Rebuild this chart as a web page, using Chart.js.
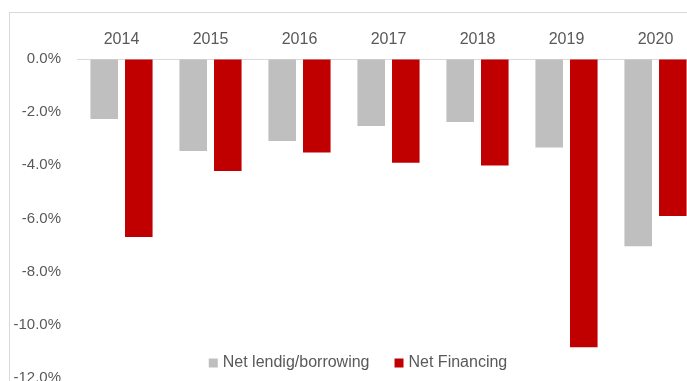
<!DOCTYPE html>
<html>
<head>
<meta charset="utf-8">
<script src="https://cdn.jsdelivr.net/npm/chart.js@4.4.1/dist/chart.umd.min.js"></script>
<style>
    html, body { margin: 0; padding: 0; background: #fff; overflow: hidden; }
    #frame {
        position: absolute;
        left: 9px;
        top: 12px;
        width: 700px;
        height: 400px;
        border: 1px solid #d9d9d9;
    }
    #chartBox { position: absolute; left: 0; top: 0; width: 690px; height: 390px; }
</style>
</head>
<body>
<div id="frame">
    <div id="chartBox"><canvas id="myChart"></canvas></div>
</div>
<script>
// years along the top axis
var years = ["2014", "2015", "2016", "2017", "2018", "2019", "2020"];

// % of GDP
var netLending = [-2.26, -3.46, -3.08, -2.52, -2.37, -3.33, -7.04];
var netFinancing = [-6.70, -4.21, -3.52, -3.90, -4.01, -10.84, -5.91];

var yTicks = [0, -2, -4, -6, -8, -10, -12];

var textColor = "#595959";
var fontFamily = "'Liberation Sans', Arial, sans-serif";

// legend drawn inside the plot, near the bottom
var innerLegend = {
    id: "innerLegend",
    afterDraw: function (chart) {
        var ctx = chart.ctx;
        var sets = chart.data.datasets;
        var box = 9, gap = 5, between = 25;
        ctx.save();
        ctx.font = "16px " + fontFamily;
        ctx.textBaseline = "middle";
        var total = 0;
        var widths = [];
        for (var i = 0; i < sets.length; i++) {
            var w = box + gap + ctx.measureText(sets[i].label).width;
            widths.push(w);
            total += w + (i > 0 ? between : 0);
        }
        var x = 348 - total / 2;
        var y = 350;
        for (var j = 0; j < sets.length; j++) {
            ctx.fillStyle = sets[j].backgroundColor;
            ctx.fillRect(x, y - box / 2, box, box);
            ctx.fillStyle = textColor;
            ctx.fillText(sets[j].label, x + box + gap, y);
            x += widths[j] + between;
        }
        ctx.restore();
    }
};

var ctx = document.getElementById("myChart").getContext("2d");
var myChart = new Chart(ctx, {
    type: "bar",
    data: {
        labels: years,
        datasets: [{
            label: "Net lendig/borrowing",
            data: netLending,
            backgroundColor: "#BFBFBF",
            categoryPercentage: 0.777,
            barPercentage: 0.797
        },
        {
            label: "Net Financing",
            data: netFinancing,
            backgroundColor: "#C00000",
            categoryPercentage: 0.777,
            barPercentage: 0.797
        }
        ]
    },
    options: {
        responsive: true,
        maintainAspectRatio: false,
        animation: false,
        layout: { padding: { left: 0, right: 0, top: 0, bottom: 16 } },
        plugins: {
            legend: { display: false },
            tooltip: { enabled: false }
        },
        scales: {
            x: {
                position: "top",
                grid: { display: false },
                border: { display: false },
                ticks: {
                    color: textColor,
                    font: { family: fontFamily, size: 16 },
                    padding: 2,
                    maxRotation: 0
                },
                afterFit: function (scale) { scale.height = 46; }
            },
            y: {
                min: -12,
                max: 0,
                afterBuildTicks: function (scale) {
                    scale.ticks = yTicks.map(function (v) { return { value: v }; });
                },
                grid: {
                    drawTicks: false,
                    color: function (c) { return c.tick && c.tick.value === 0 ? "#d9d9d9" : "rgba(0,0,0,0)"; },
                    lineWidth: 1
                },
                border: { display: false },
                ticks: {
                    color: textColor,
                    font: { family: fontFamily, size: 15 },
                    padding: 16,
                    callback: function (v) { return v.toFixed(1) + "%"; }
                },
                afterFit: function (scale) { scale.width = 67; }
            }
        }
    },
    plugins: [innerLegend]
});
</script>
</body>
</html>
